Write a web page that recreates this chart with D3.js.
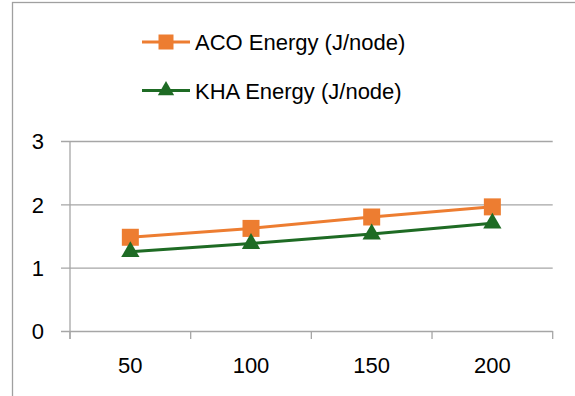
<!DOCTYPE html>
<html>
<head>
<meta charset="utf-8">
<script src="https://cdn.jsdelivr.net/npm/d3@7"></script>
<style>
  body { margin: 0; background: #fff; }
  svg { display: block; font-family: "Liberation Sans", Arial, sans-serif; }
</style>
</head>
<body>
<svg id="svg" width="575" height="396"></svg>
<script>
// chart data
const nodes = [50, 100, 150, 200];
const acoEnergy = [1.48, 1.62, 1.80, 1.96];
const khaEnergy = [1.25, 1.38, 1.53, 1.70];
const yTicks = [0, 1, 2, 3];
const seriesNames = ['ACO Energy (J/node)', 'KHA Energy (J/node)'];

const orange = '#ed7d31';
const green = '#1e6b24';
const gridColour = '#a6a6a6';

const svg = d3.select('#svg');

// outer chart frame
svg.append('rect')
  .attr('x', 12.5).attr('y', 2.5)
  .attr('width', 600).attr('height', 420)
  .attr('fill', 'none')
  .attr('stroke', '#a0a0a0')
  .attr('stroke-width', 1.3);

const plotLeft = 70, plotRight = 552.7, plotTop = 141, plotBottom = 331;

const xScale = d3.scaleBand()
  .domain(nodes)
  .range([plotLeft, plotRight])
  .padding(0);

const yScale = d3.scaleLinear()
  .domain([0, 3])
  .range([plotBottom, plotTop]);

// y axis with gridlines that stick out a little to the left
const yAxis = d3.axisLeft(yScale)
  .tickValues(yTicks)
  .tickSize(-(plotRight - plotLeft + 9))
  .tickPadding(17)
  .tickFormat(d3.format('d'));

const yAxisG = svg.append('g')
  .attr('transform', `translate(${plotLeft - 9},0)`)
  .call(yAxis);
yAxisG.select('path.domain').remove();
yAxisG.selectAll('line').attr('stroke', gridColour).attr('stroke-width', 1.3);
yAxisG.selectAll('text')
  .attr('fill', '#000')
  .style('font-size', '22px')
  .attr('dy', '0.36em');

// x axis labels (centred in each band)
const xAxis = d3.axisBottom(xScale).tickSize(0).tickPadding(26);
const xAxisG = svg.append('g')
  .attr('transform', `translate(0,${plotBottom})`)
  .call(xAxis);
xAxisG.select('path.domain').remove();
xAxisG.selectAll('text')
  .attr('fill', '#000')
  .style('font-size', '22px');

// x tick marks at band edges
const edges = nodes.map(d => xScale(d)).concat([xScale.range()[1]]);
svg.append('g').selectAll('line')
  .data(edges)
  .join('line')
  .attr('x1', d => d).attr('x2', d => d)
  .attr('y1', plotBottom).attr('y2', plotBottom + 8)
  .attr('stroke', gridColour)
  .attr('stroke-width', 1.3);

// vertical axis line
svg.append('line')
  .attr('x1', plotLeft).attr('x2', plotLeft)
  .attr('y1', plotTop).attr('y2', plotBottom + 8)
  .attr('stroke', gridColour)
  .attr('stroke-width', 1.3);

const cx = d => xScale(d) + xScale.bandwidth() / 2;

const line = d3.line()
  .x(d => cx(d[0]))
  .y(d => yScale(d[1]));

const acoPts = nodes.map((n, i) => [n, acoEnergy[i]]);
const khaPts = nodes.map((n, i) => [n, khaEnergy[i]]);

svg.append('path')
  .datum(acoPts)
  .attr('d', line)
  .attr('fill', 'none')
  .attr('stroke', orange)
  .attr('stroke-width', 3);

svg.append('path')
  .datum(khaPts)
  .attr('d', line)
  .attr('fill', 'none')
  .attr('stroke', green)
  .attr('stroke-width', 3);

const square = d3.symbol().type(d3.symbolSquare).size(289);
const triangle = d3.symbol().type(d3.symbolTriangle).size(145);

svg.append('g').selectAll('path')
  .data(acoPts)
  .join('path')
  .attr('d', square)
  .attr('transform', d => `translate(${cx(d[0])},${yScale(d[1])})`)
  .attr('fill', orange);

svg.append('g').selectAll('path')
  .data(khaPts)
  .join('path')
  .attr('d', triangle)
  .attr('transform', d => `translate(${cx(d[0])},${yScale(d[1])})`)
  .attr('fill', green);

// legend
const legend = svg.append('g');
const legendRows = [
  { name: seriesNames[0], colour: orange, symbol: d3.symbol().type(d3.symbolSquare).size(225), y: 42 },
  { name: seriesNames[1], colour: green, symbol: d3.symbol().type(d3.symbolTriangle).size(115), y: 90.5 }
];

legendRows.forEach(r => {
  legend.append('line')
    .attr('x1', 142).attr('x2', 190)
    .attr('y1', r.y).attr('y2', r.y)
    .attr('stroke', r.colour)
    .attr('stroke-width', 3);
  legend.append('path')
    .attr('d', r.symbol)
    .attr('transform', `translate(166,${r.y})`)
    .attr('fill', r.colour);
  legend.append('text')
    .attr('x', 195)
    .attr('y', r.y + 8)
    .text(r.name)
    .style('font-size', '22px')
    .attr('fill', '#000');
});
</script>
</body>
</html>
